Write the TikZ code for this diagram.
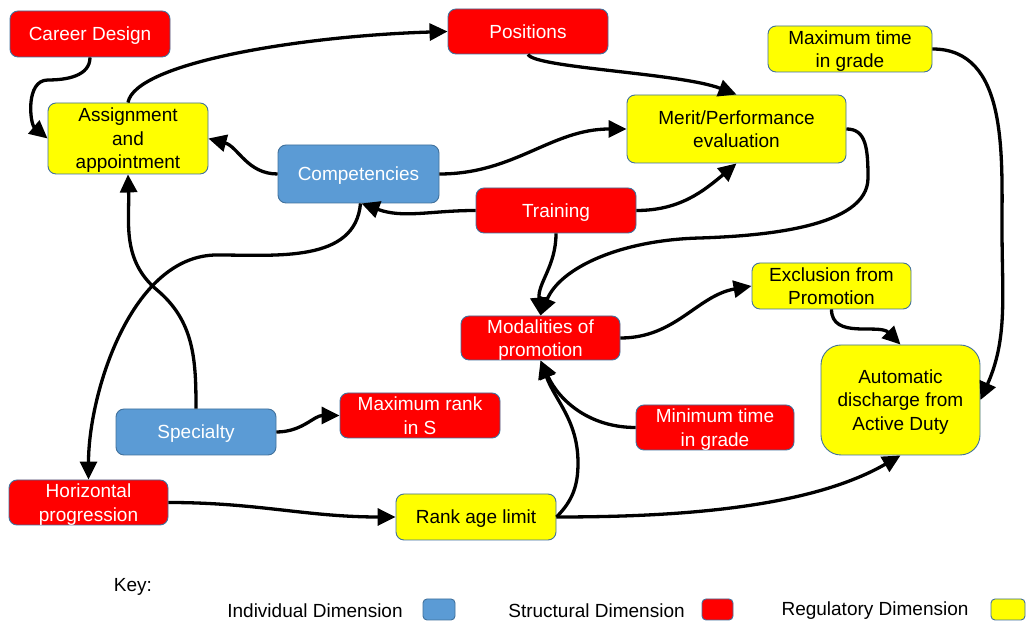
\documentclass[tikz,border=0pt]{standalone}
\usepackage{fontspec}
\setmainfont{Liberation Sans}
\usetikzlibrary{arrows.meta}
\definecolor{bred}{HTML}{FF0000}
\definecolor{byel}{HTML}{FFFF00}
\definecolor{bblue}{HTML}{5B9BD5}
\definecolor{bord}{HTML}{41719C}
\begin{document}
\begin{tikzpicture}[x=1pt,y=1pt,
  box/.style={draw=bord, line width=0.9pt, rounded corners=8pt, align=center, inner sep=0pt, text depth=0pt, font=\fontsize{19}{23.5}\selectfont},
  redbox/.style={box, fill=bred, text=white},
  yelbox/.style={box, fill=byel, text=black},
  bluebox/.style={box, fill=bblue, text=white},
  sz/.style 2 args={minimum width=#1pt, minimum height=#2pt},
  conn/.style={line width=3.3pt, -{Triangle[length=18pt,width=17pt]}},
  lbl/.style={font=\fontsize{19}{23.5}\selectfont, inner sep=0pt},
]
\useasboundingbox (0,0) rectangle (1030,628);
\fill[white] (0,0) rectangle (1030,628);

% nodes
\node[redbox, sz={160}{46}] (cd) at (90,594) {Career Design};
\node[redbox, sz={160}{45}] (pos) at (528,596.5) {Positions};
\node[yelbox, sz={164}{46}] (mtg) at (850,579) {Maximum time\\in grade};
\node[yelbox, sz={160}{71}] (asg) at (128,489.5) {Assignment\\and\\appointment};
\node[yelbox, sz={219}{68}] (mer) at (736.5,499) {Merit/Performance\\evaluation};
\node[bluebox, sz={161}{58}] (comp) at (358.5,454) {Competencies};
\node[redbox, sz={160}{45}] (tr) at (556,417.5) {Training};
\node[yelbox, sz={159}{46}] (exc) at (831.5,342) {Exclusion from\\Promotion};
\node[redbox, sz={159}{44}] (mod) at (540.5,290) {Modalities of\\promotion};
\node[yelbox, sz={159}{110}, rounded corners=20pt] (aut) at (900.5,228) {Automatic\\discharge from\\Active Duty};
\node[bluebox, sz={160}{46}] (spec) at (196,196) {Specialty};
\node[redbox, sz={160}{45}] (mrs) at (420,212.5) {Maximum rank\\in S};
\node[redbox, sz={158}{45}] (mintg) at (715,200.5) {Minimum time\\in grade};
\node[redbox, sz={159}{45}] (hp) at (88.5,125.5) {Horizontal\\progression};
\node[yelbox, sz={160}{46}] (ral) at (476,111) {Rank age limit};

% key
\node[lbl] (key) at (133,41) {Key:};
\node[lbl] (kind) at (315,17) {Individual Dimension};
\node[box, fill=bblue, sz={32}{21}, rounded corners=4pt] (kbl) at (439,18.5) {};
\node[lbl] (kstr) at (596.5,17) {Structural Dimension};
\node[box, fill=bred, sz={31}{21}, rounded corners=4pt] (krd) at (717.5,18.5) {};
\node[lbl] (kreg) at (875,17) {Regulatory Dimension};
\node[box, fill=byel, sz={34}{21}, rounded corners=4pt] (kyl) at (1008,18.5) {};

% connectors
\coordinate (c1) at (48,548);
\draw[conn] (cd.south) to[out=-90,in=0] (c1) to[out=180,in=140] (asg.west);
\draw[conn] (asg.north) .. controls (135,565) and (300,592) .. (pos.west);
\draw[conn] (comp.west) to[out=180,in=-15] (asg.east);
\draw[conn] (comp.east) to[out=0,in=180] (mer.west);
\draw[conn] (tr.west) to[out=180,in=-20] ([xshift=3pt]comp.south);
\draw[conn] (tr.east) to[out=0,in=-140] (mer.south);
\draw[conn] (pos.south) .. controls (535,560) and (680,555) .. (mer.north);
\coordinate (c8a) at (868,450);
\coordinate (c8b) at (700,390);
\draw[conn] (mer.east) .. controls (866,499) and (868,480) .. (c8a)
  .. controls (868,400) and (760,392) .. (c8b)
  .. controls (620,388) and (560,360) .. (mod.north);
\draw[conn] (tr.south) to[out=-90,in=95] (mod.north);
\coordinate (c10) at (1002,400);
\draw[conn] (mtg.east) to[out=0,in=90] (c10) to[out=-90,in=66] (aut.east);
\draw[conn] (mod.east) to[out=0,in=-170] (exc.west);
\draw[conn] (exc.south) to[out=-90,in=135] (aut.north);
\draw[conn] (mintg.west) to[out=180,in=-65] (mod.south);
\coordinate (c14) at (578,165);
\draw[conn] (ral.east) to[out=45,in=-90] (c14) to[out=90,in=-70] (mod.south);
\draw[conn] (ral.east) to[out=0,in=-150,looseness=0.8] (aut.south);
\draw[conn] (hp.east) to[out=0,in=180] (ral.west);
\coordinate (c17) at (157,338);
\draw[conn] (spec.north) to[out=90,in=-40] (c17) to[out=140,in=-88] (asg.south);
\coordinate (c18) at (217,373);
\draw[conn] ([xshift=2pt]comp.south) to[out=-95,in=0] (c18) to[out=180,in=90,looseness=0.85] (hp.north);
\draw[conn] (spec.east) to[out=0,in=180] (mrs.west);
\end{tikzpicture}
\end{document}
